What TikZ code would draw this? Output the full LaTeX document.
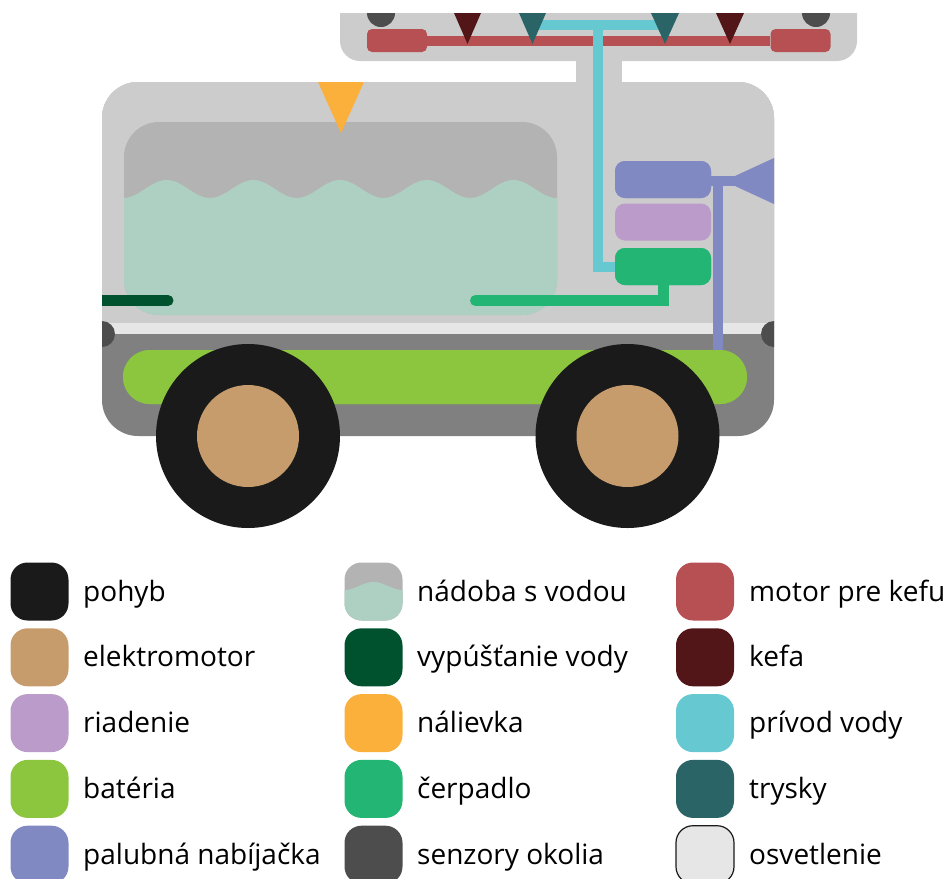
\documentclass[tikz,border=0pt]{standalone}
\usepackage{fontspec}
\setmainfont{Open Sans}
\usetikzlibrary{calc}

% palette
\definecolor{bodygray}{HTML}{CCCCCC}
\definecolor{chassis}{HTML}{808080}
\definecolor{tankgray}{HTML}{B3B3B3}
\definecolor{water}{HTML}{AED0C3}
\definecolor{lightstrip}{HTML}{E6E6E6}
\definecolor{sensor}{HTML}{4D4D4D}
\definecolor{tyre}{HTML}{1A1A1A}
\definecolor{motor}{HTML}{C69C6D}
\definecolor{control}{HTML}{BB9BCA}
\definecolor{battery}{HTML}{8CC63F}
\definecolor{charger}{HTML}{8189C2}
\definecolor{drain}{HTML}{00522F}
\definecolor{funnel}{HTML}{FBB03B}
\definecolor{pump}{HTML}{22B573}
\definecolor{brushmotor}{HTML}{B75052}
\definecolor{brush}{HTML}{521618}
\definecolor{supply}{HTML}{66C9D1}
\definecolor{nozzle}{HTML}{2A6467}

\tikzset{
  unitbox/.style={draw=none, inner sep=0pt, minimum width=96pt, minimum height=37pt, rounded corners=10pt},
  brushcap/.style={fill=brushmotor, inner sep=0pt, minimum width=60pt, minimum height=23pt, rounded corners=5pt},
  batterybar/.style={fill=battery, inner sep=0pt, minimum width=624pt, minimum height=54pt, rounded corners=27pt},
  pipe/.style={line width=10pt, line cap=butt, line join=miter},
  swatch/.style={inner sep=0pt, minimum width=58pt, minimum height=58pt, rounded corners=17pt},
  legtext/.style={anchor=base west, inner sep=0pt, text=black, font=\fontsize{28}{34}\selectfont},
}

\begin{document}
\begin{tikzpicture}[x=1pt, y=-1pt]
\useasboundingbox (0,0) rectangle (946,879);

% ---------- brush unit on top ----------
\begin{scope}
  \clip (0,13) rectangle (946,879);
  \fill[bodygray, rounded corners=20pt] (340,-30) rectangle (857,61);
  \fill[sensor] (381,13) circle (14);
  \fill[sensor] (816,13) circle (14);
\end{scope}
% neck between brush unit and body
\fill[bodygray] (576,55) rectangle (622,90);

% brush motors and shaft
\node[brushcap] (capL) at (397,40.5) {};
\node[brushcap] (capR) at (800.5,40.5) {};
\draw[brushmotor, pipe] (capL.east) -- (capR.west);

% ---------- main body ----------
\begin{scope}
  \clip[rounded corners=36pt] (102,82) rectangle (774,436);
  \fill[chassis] (90,70) rectangle (790,450);
  \fill[lightstrip] (90,70) rectangle (790,334);
  \fill[bodygray] (90,70) rectangle (790,323);
  % obstacle sensors
  \fill[sensor] (102,334) circle (13);
  \fill[sensor] (774,334) circle (13);
  % charging socket horn
  \coordinate (hornbase) at (735,181);
  \fill[charger] (735,176) -- (782,154.3) -- (782,207.7) -- (735,186) -- cycle;
\end{scope}

% water tank with waves
\begin{scope}
  \clip[rounded corners=35pt] (124,122) rectangle (557,315);
  \fill[tankgray] (120,118) rectangle (560,320);
  \fill[water] (120,198)
    -- plot[domain=120:560, samples=220, smooth] (\x, {189+9*cos((\x-123.3)/86.7*360)})
    -- (560,320) -- (120,320) -- cycle;
\end{scope}

% water drain, leaving through the body wall
\begin{scope}
  \clip (102,280) rectangle (200,320);
  \draw[drain, line width=11pt, line cap=round] (92,300.5) -- (168,300.5);
\end{scope}

% filling funnel
\fill[funnel] (318,82) -- (364,82) -- (341,133) -- cycle;

% ---------- electronics stack ----------
\node[unitbox, fill=charger] (charger) at (663,179.5) {};
\node[unitbox, fill=control] (control) at (663,222) {};
\node[unitbox, fill=pump] (pumpbox) at (663,266.5) {};
\node[batterybar] (battery) at (435,377) {};

% pipes and cables
\coordinate (chgdrop) at (717.5,181);
\draw[supply, pipe] (532,25) -- (665,25);
\draw[supply, pipe] (598,25) |- (pumpbox.west);
\draw[pump, line width=11pt, line cap=round, line join=miter] (pumpbox.south) |- (475.5,300.5);
\draw[charger, pipe] (hornbase) -- (hornbase -| charger.center);
\draw[charger, pipe] (chgdrop) -- (battery.north -| chgdrop);

% boxes again, over the ends of their pipes
\node[unitbox, fill=charger] at (charger) {};
\node[unitbox, fill=pump] at (pumpbox) {};
\node[batterybar] at (battery) {};

% brushes and nozzles
\fill[brush]  (454,13) -- (481,13) -- (467.5,44) -- cycle;
\fill[nozzle] (519,13) -- (546,13) -- (532.5,44) -- cycle;
\fill[nozzle] (651,13) -- (679,13) -- (665,44) -- cycle;
\fill[brush]  (716,13) -- (744,13) -- (730,44) -- cycle;

% ---------- wheels ----------
\node[circle, fill=tyre, inner sep=0pt, minimum size=184pt] (wheelL) at (248,436) {};
\node[circle, fill=motor, inner sep=0pt, minimum size=102pt] (hubL) at (wheelL) {};
\node[circle, fill=tyre, inner sep=0pt, minimum size=184pt] (wheelR) at (627.5,436) {};
\node[circle, fill=motor, inner sep=0pt, minimum size=102pt] (hubR) at (wheelR) {};

% ---------- legend ----------
% column 1
\node[swatch, fill=tyre]    (sw1) at (39.5,591.5) {};
\node[legtext] (lb1) at (83,601) {pohyb};
\node[swatch, fill=motor]   (sw2) at (39.5,657.3) {};
\node[legtext] (lb2) at (83,666.8) {elektromotor};
\node[swatch, fill=control] (sw3) at (39.5,723.1) {};
\node[legtext] (lb3) at (83,732.6) {riadenie};
\node[swatch, fill=battery] (sw4) at (39.5,788.9) {};
\node[legtext] (lb4) at (83,798.4) {batéria};
\node[swatch, fill=charger] (sw5) at (39.5,854.7) {};
\node[legtext] (lb5) at (83,864.2) {palubná nabíjačka};

% column 2
\node[swatch, fill=tankgray] (sw6) at (373.5,591.5) {};
\begin{scope}
  \clip[rounded corners=17pt] (344.5,562.5) rectangle (402.5,620.5);
  \fill[water] (340,590)
    -- plot[domain=340:407, samples=60, smooth] (\x, {586-4*cos((\x-373.5)/58*360)})
    -- (407,625) -- (340,625) -- cycle;
\end{scope}
\node[legtext] (lb6) at (417,601) {nádoba s vodou};
\node[swatch, fill=drain]  (sw7) at (373.5,657.3) {};
\node[legtext] (lb7) at (417,666.8) {vypúšťanie vody};
\node[swatch, fill=funnel] (sw8) at (373.5,723.1) {};
\node[legtext] (lb8) at (417,732.6) {nálievka};
\node[swatch, fill=pump]   (sw9) at (373.5,788.9) {};
\node[legtext] (lb9) at (417,798.4) {čerpadlo};
\node[swatch, fill=sensor] (sw10) at (373.5,854.7) {};
\node[legtext] (lb10) at (417,864.2) {senzory okolia};

% column 3
\node[swatch, fill=brushmotor] (sw11) at (705,591.5) {};
\node[legtext] (lb11) at (749,601) {motor pre kefu};
\node[swatch, fill=brush]  (sw12) at (705,657.3) {};
\node[legtext] (lb12) at (749,666.8) {kefa};
\node[swatch, fill=supply] (sw13) at (705,723.1) {};
\node[legtext] (lb13) at (749,732.6) {prívod vody};
\node[swatch, fill=nozzle] (sw14) at (705,788.9) {};
\node[legtext] (lb14) at (749,798.4) {trysky};
\node[swatch, fill=lightstrip, draw=tyre, line width=1.2pt] (sw15) at (705,854.7) {};
\node[legtext] (lb15) at (749,864.2) {osvetlenie};
\end{tikzpicture}
\end{document}
